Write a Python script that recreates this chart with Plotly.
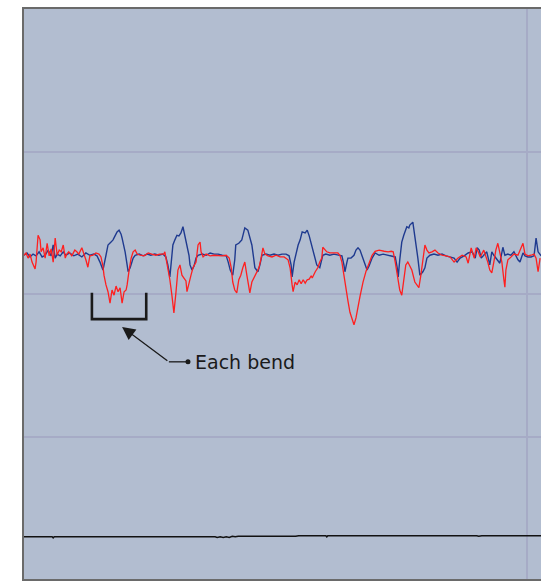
import plotly.graph_objects as go

# ---- data: sample index vs. sensor reading ----
navy_x = [0, 6, 12, 18, 24, 30, 36, 42, 48, 54, 58, 62, 66, 72, 78, 83, 91, 99, 107, 115, 123, 131, 139, 145,
          151, 157, 163, 167, 173, 177, 181, 185, 189, 193, 195, 199, 201, 205, 207, 211, 217, 221, 229, 237,
          245, 252, 260, 268, 276, 282, 286, 290, 294, 296, 300, 304, 308, 312, 316, 320, 324, 328, 330, 334,
          338, 342, 346, 354, 362, 370, 378, 386, 394, 402, 406, 410, 415, 419, 421, 427, 433, 439, 445, 449,
          453, 457, 459, 465, 469, 473, 481, 489, 497, 505, 513, 521, 527, 531, 533, 537, 541, 545, 549, 553,
          559, 563, 567, 571, 575, 579, 582, 588, 594, 600, 608, 616, 624, 632, 636, 638, 642, 644, 650, 656,
          660, 664, 668, 672, 678, 682, 686, 692, 698, 706, 714, 722, 730, 738, 742, 744, 747, 751, 755, 761,
          765, 767, 773, 777, 781, 783, 787, 793, 797, 801, 807, 815, 823, 831, 839, 847, 855, 861, 867, 875,
          883, 891, 897, 901, 905, 909, 914, 920, 926, 930, 934, 940, 946, 952, 956, 962, 968, 974, 978, 982,
          986, 992, 996, 1002, 1008, 1014, 1018, 1022, 1028]
navy_y = [568, 572, 565, 570, 567, 574, 565, 568, 577, 567, 586, 563, 570, 567, 574, 568, 572, 567, 570, 565,
          572, 568, 570, 567, 556, 542, 568, 586, 591, 595, 602, 609, 612, 605, 598, 584, 574, 551, 539, 546,
          563, 568, 570, 567, 570, 568, 570, 568, 570, 565, 551, 530, 568, 586, 595, 603, 602, 607, 618, 603,
          586, 568, 551, 542, 549, 563, 568, 570, 568, 572, 570, 570, 568, 567, 556, 542, 533, 560, 586, 589,
          595, 616, 612, 598, 586, 560, 546, 539, 551, 568, 570, 568, 570, 568, 570, 570, 567, 551, 530, 556,
          574, 586, 595, 609, 607, 612, 602, 589, 574, 560, 551, 546, 568, 570, 568, 570, 568, 567, 551, 539,
          556, 563, 563, 568, 577, 581, 577, 567, 551, 542, 549, 563, 572, 568, 570, 568, 567, 565, 546, 530,
          560, 591, 603, 618, 616, 621, 626, 603, 581, 563, 533, 539, 546, 563, 568, 570, 568, 570, 567, 565,
          563, 556, 563, 567, 572, 574, 563, 581, 577, 563, 568, 574, 551, 574, 568, 560, 554, 582, 568, 570,
          568, 574, 567, 560, 556, 572, 567, 565, 565, 567, 598, 574, 567]

red_x = [0, 4, 8, 12, 16, 20, 22, 24, 28, 32, 34, 38, 42, 46, 50, 54, 58, 62, 66, 70, 74, 78, 82, 85, 89, 95,
         101, 105, 109, 115, 119, 123, 127, 131, 137, 143, 149, 153, 157, 159, 163, 167, 171, 175, 179, 183,
         187, 191, 195, 199, 203, 205, 209, 213, 217, 221, 225, 231, 239, 247, 254, 262, 270, 278, 280, 284,
         290, 294, 298, 302, 306, 310, 314, 318, 322, 324, 328, 332, 336, 342, 346, 350, 352, 356, 362, 370,
         378, 386, 394, 402, 408, 412, 415, 419, 423, 427, 431, 435, 439, 443, 447, 449, 453, 457, 461, 467,
         471, 475, 479, 485, 493, 501, 509, 517, 525, 529, 533, 535, 539, 543, 547, 551, 555, 559, 563, 567,
         571, 573, 579, 584, 588, 592, 594, 598, 602, 608, 616, 624, 628, 632, 636, 640, 644, 648, 652, 656,
         660, 664, 668, 674, 680, 686, 692, 698, 706, 716, 724, 730, 734, 738, 744, 747, 751, 755, 759, 763,
         767, 771, 777, 781, 785, 789, 793, 797, 801, 805, 811, 817, 823, 831, 839, 847, 855, 863, 871, 879,
         883, 889, 895, 899, 903, 907, 914, 918, 922, 926, 930, 934, 938, 942, 946, 950, 954, 956, 958, 962,
         966, 974, 982, 988, 992, 996, 1002, 1008, 1014, 1018, 1022, 1026]
red_y = [568, 572, 563, 570, 556, 549, 544, 556, 603, 595, 574, 581, 563, 589, 567, 579, 556, 598, 568, 577,
         574, 586, 563, 570, 574, 567, 577, 574, 570, 581, 572, 560, 547, 567, 568, 572, 570, 565, 549, 533,
         516, 504, 484, 507, 498, 514, 504, 511, 484, 504, 507, 516, 542, 563, 574, 577, 570, 568, 567, 572,
         570, 568, 570, 570, 574, 556, 525, 498, 467, 502, 542, 551, 533, 528, 523, 504, 521, 533, 546, 556,
         586, 591, 574, 565, 570, 567, 568, 567, 567, 568, 563, 546, 521, 507, 502, 525, 533, 546, 556, 533,
         516, 502, 521, 528, 537, 546, 561, 581, 570, 567, 565, 568, 565, 565, 560, 546, 516, 504, 521, 516,
         525, 518, 525, 519, 525, 526, 532, 528, 539, 546, 556, 563, 582, 577, 574, 572, 572, 572, 568, 556,
         533, 507, 488, 468, 458, 446, 458, 481, 496, 521, 540, 554, 568, 575, 577, 575, 574, 575, 574, 556,
         528, 507, 498, 525, 551, 556, 549, 542, 521, 516, 511, 533, 560, 586, 577, 572, 574, 577, 572, 568,
         567, 565, 556, 563, 568, 565, 554, 581, 563, 581, 574, 565, 577, 568, 556, 542, 537, 556, 577, 589,
         574, 556, 525, 512, 542, 560, 563, 570, 568, 579, 589, 570, 567, 568, 570, 563, 539, 563]

base_x = [0, 56, 58, 60, 380, 384, 390, 396, 402, 408, 414, 420, 426, 432, 438, 444, 450, 456, 462, 468, 474,
          480, 486, 492, 498, 504, 510, 516, 522, 528, 540, 546, 560, 600, 602, 604, 900, 904, 910, 916, 920,
          930, 940, 950, 960, 970, 980, 990, 1000, 1028]
base_y = [74, 74, 72, 74, 74, 73, 74, 73, 74, 73, 75, 74, 75, 75, 74, 75, 74, 75, 75, 74, 75, 74, 75, 75, 74,
          75, 74, 75, 75, 74, 75, 76, 76, 76, 74, 76, 76, 75, 76, 76, 75, 76, 76, 75, 76, 76, 75, 76, 76, 76]

# bracket marking one bend (sample span, reading level)
bend_start, bend_end = 135, 243
bend_top, bend_bottom = 502, 456
label_text = "Each bend"

fig = go.Figure()
fig.add_trace(go.Scatter(x=base_x, y=base_y, mode="lines",
                         line=dict(color="#111111", width=1.5), hoverinfo="skip"))
fig.add_trace(go.Scatter(x=navy_x, y=navy_y, mode="lines",
                         line=dict(color="#1f3a8f", width=1.4)))
fig.add_trace(go.Scatter(x=red_x, y=red_y, mode="lines",
                         line=dict(color="#ff1f1f", width=1.3)))

# bracket
fig.add_shape(type="path",
              path=f"M {bend_start},{bend_top} L {bend_start},{bend_bottom} L {bend_end},{bend_bottom} L {bend_end},{bend_top}",
              xref="x", yref="y", line=dict(color="#1a1a1a", width=2.6))
# leader line: horizontal piece + dot
lead_x0, lead_x1, lead_y = 288, 326, 381
fig.add_shape(type="line", x0=lead_x0, x1=lead_x1, y0=lead_y, y1=lead_y,
              xref="x", yref="y", line=dict(color="#1a1a1a", width=1.3))
fig.add_shape(type="circle", xref="x", yref="y", xsizemode="pixel", ysizemode="pixel",
              xanchor=lead_x1, yanchor=lead_y, x0=-2.5, x1=2.5, y0=-2.5, y1=2.5,
              fillcolor="#1a1a1a", line=dict(color="#1a1a1a", width=0))
# arrow to bracket
fig.add_annotation(x=195, y=442, ax=lead_x0, ay=lead_y, axref="x", ayref="y",
                   xref="x", yref="y", text="", showarrow=True, arrowhead=2,
                   arrowsize=2, arrowwidth=1.3, arrowcolor="#1a1a1a", standoff=0)
fig.add_annotation(x=lead_x1 + 10, y=lead_y, xref="x", yref="y", text=label_text,
                   showarrow=False, xanchor="left", yanchor="middle",
                   font=dict(family="DejaVu Sans", size=19, color="#1a1a1a"))

fig.update_layout(
    width=541, height=582,
    margin=dict(l=24, r=0, t=9, b=3),
    paper_bgcolor="white", plot_bgcolor="#b2bdd0",
    showlegend=False,
    xaxis=dict(range=[0, 1027.8], tick0=0, dtick=1000, showticklabels=False, ticks="",
               showgrid=True, gridcolor="#a6abc6", gridwidth=2, zeroline=False,
               showline=True, mirror=True, linecolor="#6a6a6a", linewidth=2),
    yaxis=dict(range=[0, 1000], tick0=0, dtick=250, showticklabels=False, ticks="",
               showgrid=True, gridcolor="#a6abc6", gridwidth=2, zeroline=False,
               showline=True, mirror=False, linecolor="#6a6a6a", linewidth=2),
)

fig.write_html("out.html", config={"displayModeBar": False},
               post_script="document.body.style.margin='0';document.body.style.overflow='hidden';")
